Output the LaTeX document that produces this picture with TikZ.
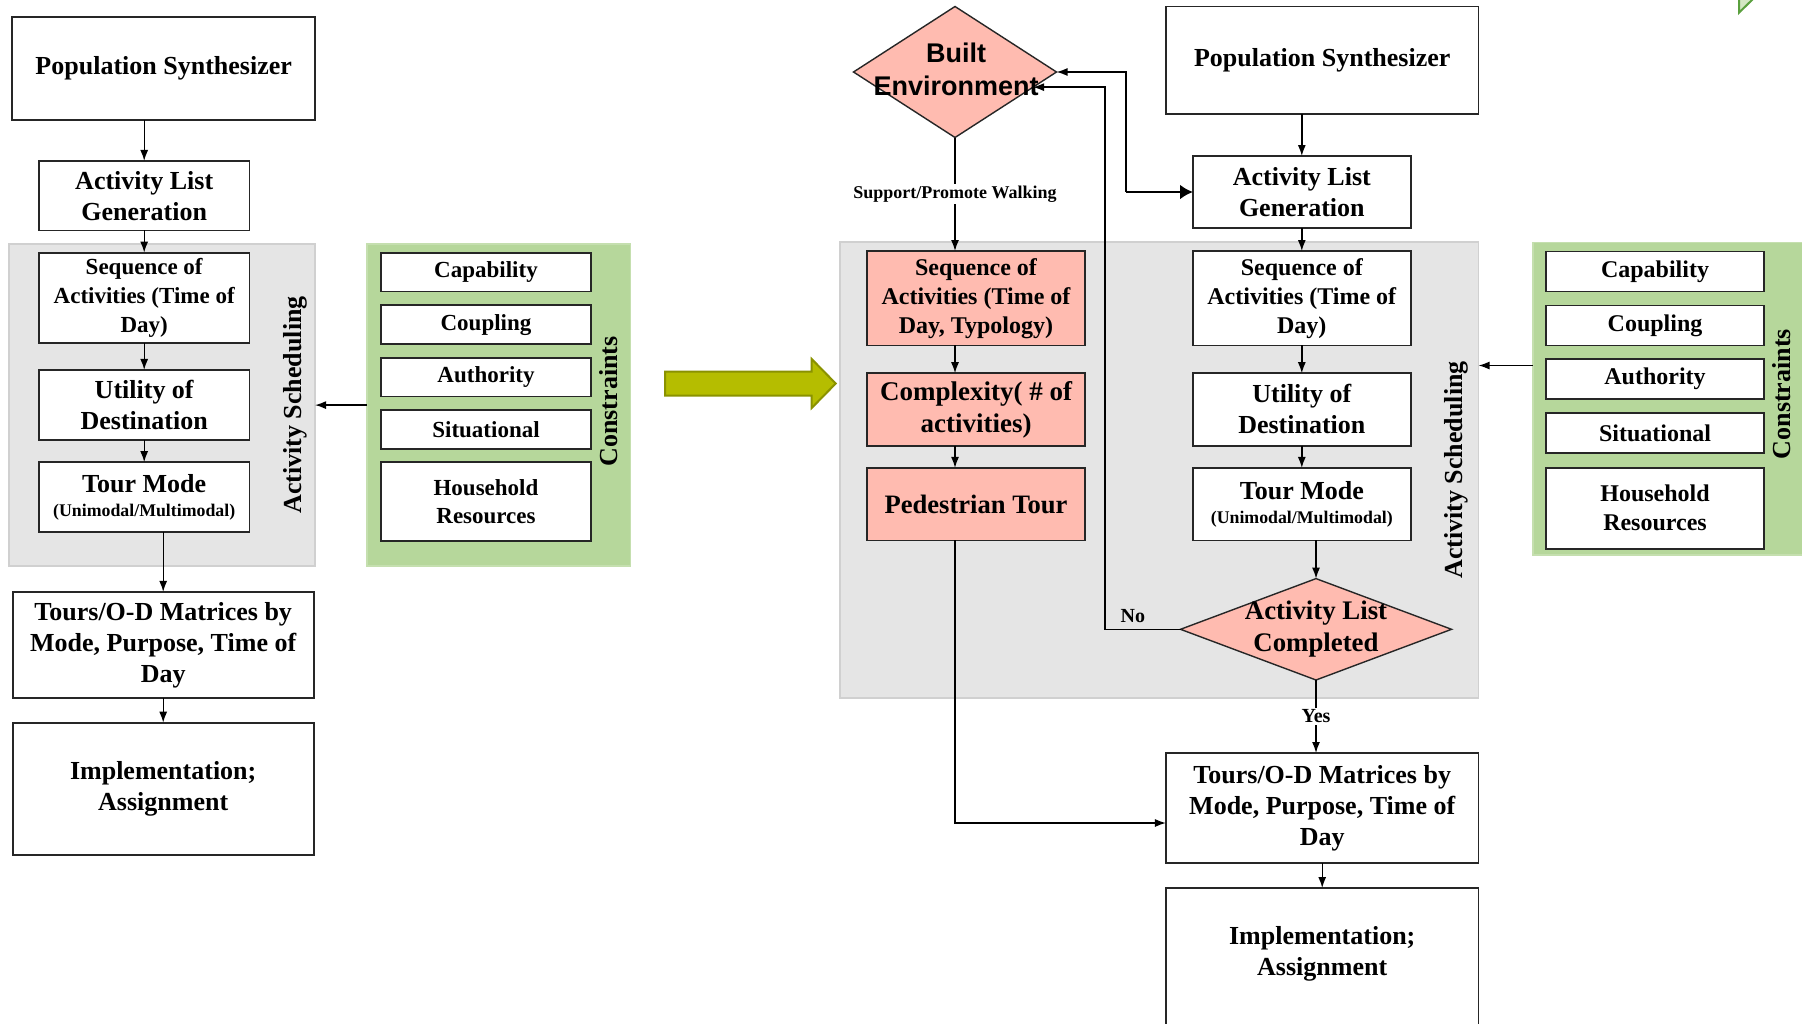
\documentclass[tikz,border=0pt]{standalone}
\usepackage{fontspec}
\setmainfont{Liberation Serif}
\newfontfamily\besans{Liberation Sans}
\usetikzlibrary{positioning, shapes.geometric, arrows.meta, calc}

\definecolor{schedgray}{RGB}{229,229,229}
\definecolor{schedline}{RGB}{208,208,208}
\definecolor{consgreen}{RGB}{182,215,155}
\definecolor{walkpink}{RGB}{255,187,176}
\definecolor{shiftolive}{RGB}{181,189,0}
\definecolor{shiftline}{RGB}{138,146,0}
\definecolor{cornergreen}{RGB}{90,160,62}

\begin{document}
\begin{tikzpicture}[x=0.5pt, y=-0.5pt,
  conn/.style={-{Latex[length=5.5pt,width=4pt]}, line width=0.7pt},
  procbox/.style={rectangle, draw=black!85, line width=0.9pt, fill=white, align=center, inner sep=1pt, outer sep=0pt, font=\fontsize{13}{15.5}\selectfont\bfseries},
  seqbox/.style={procbox, font=\fontsize{11.5}{14.5}\selectfont\bfseries},
  consbox/.style={procbox, font=\fontsize{11.5}{14}\selectfont\bfseries},
  walkbox/.style={procbox, fill=walkpink},
  decision/.style={diamond, draw=black!85, line width=0.7pt, fill=walkpink, inner sep=0pt, outer sep=0pt},
  schedpanel/.style={rectangle, draw=schedline, line width=0.8pt, fill=schedgray, inner sep=0pt, outer sep=0pt},
  conspanel/.style={rectangle, draw=consgreen!80!white, line width=0.8pt, fill=consgreen, inner sep=0pt, outer sep=0pt},
  sidelabel/.style={rotate=90, font=\fontsize{13}{15}\selectfont\bfseries},
  smalllabel/.style={font=\fontsize{10}{12}\selectfont\bfseries, inner sep=1pt}]

  \useasboundingbox (0,0) rectangle (1802,1023);
  \fill[white] (0,0) rectangle (1802,1023);
  \clip (0,0) rectangle (1802,1023);

  % Panels
  \node[schedpanel, minimum width=153pt, minimum height=160.9pt] (gray1) at (162,405.1) {};
  \node[conspanel, minimum width=131.8pt, minimum height=160.9pt] (green1) at (498.8,405.1) {};
  \node[schedpanel, minimum width=319.25pt, minimum height=228pt] (gray2) at (1159.25,470) {};
  \node[conspanel, minimum width=153.65pt, minimum height=156.35pt] (green2) at (1686.35,398.65) {};

  % Current model (left)
  \node[procbox, minimum width=151.4pt, minimum height=51.8pt] (ps1) at (163.7,68.4) {Population Synthesizer};
  \node[procbox, minimum width=105.25pt, minimum height=34.75pt] (alg1) at (144.2,195.7) {Activity List\\Generation};
  \node[seqbox, minimum width=105.25pt, minimum height=45.3pt] (seq1) [below=11.1pt of alg1] {Sequence of\\Activities (Time of\\Day)};
  \node[procbox, minimum width=105.25pt, minimum height=35pt] (util1) [below=13.35pt of seq1] {Utility of\\Destination};
  \node[procbox, minimum width=105.25pt, minimum height=34.8pt] (tm1) [below=11.1pt of util1] {Tour Mode\\[-3.5pt]{\fontsize{8.9}{10}\selectfont(Unimodal/Multimodal)}};
  \node[procbox, minimum width=150.5pt, minimum height=52.9pt] (tours1) at (163.2,644.8) {Tours/O-D Matrices by\\Mode, Purpose, Time of\\Day};
  \node[procbox, minimum width=150.5pt, minimum height=66.2pt] (impl1) [below=12.5pt of tours1] {Implementation;\\Assignment};
  \node[sidelabel] (asched1) at (295,405) {Activity Scheduling};

  \node[consbox, minimum width=105pt, minimum height=19.4pt] (cap1) at (486,272.1) {Capability};
  \node[consbox, minimum width=105pt, minimum height=19.4pt] (coup1) [below=6.85pt of cap1] {Coupling};
  \node[consbox, minimum width=105pt, minimum height=19.4pt] (auth1) [below=6.85pt of coup1] {Authority};
  \node[consbox, minimum width=105pt, minimum height=19.4pt] (sit1) [below=6.7pt of auth1] {Situational};
  \node[consbox, minimum width=105pt, minimum height=39.25pt] (hh1) [below=6.8pt of sit1] {Household\\Resources};
  \node[sidelabel] (cons1) at (609,401.4) {Constraints};

  % Shift arrow
  \draw[fill=shiftolive, draw=shiftline, line width=1pt] (665,371.7) -- (811.7,371.7) -- (811.7,359) -- (835.7,383.5) -- (811.7,408) -- (811.7,395.7) -- (665,395.7) -- cycle;

  % Proposed model (right)
  \node[decision, minimum width=101.5pt, minimum height=65.5pt] (be) at (955,72) {};
  \node[font={\besans\fontsize{13.5}{16.4}\selectfont\bfseries}, align=center, inner sep=0pt] (betext) at (956,69) {Built\\Environment};
  \node[procbox, minimum width=156.25pt, minimum height=53.6pt] (ps2) at (1322.2,60) {Population Synthesizer};
  \node[procbox, minimum width=108.8pt, minimum height=36pt] (alg2) at (1301.8,192) {Activity List\\Generation};

  \node[walkbox, font=\fontsize{12}{14.5}\selectfont\bfseries, minimum width=109pt, minimum height=47.2pt] (seq2) at (976,298.2) {Sequence of\\Activities (Time of\\Day, Typology)};
  \node[walkbox, font=\fontsize{13.5}{16}\selectfont\bfseries, minimum width=109pt, minimum height=36.25pt] (cplx) [below=13.9pt of seq2] {Complexity( \# of\\activities)};
  \node[walkbox, font=\fontsize{13.3}{16}\selectfont\bfseries, minimum width=109pt, minimum height=36.25pt] (ped) [below=11.1pt of cplx] {Pedestrian Tour};

  \node[seqbox, font=\fontsize{12}{14.5}\selectfont\bfseries, minimum width=108.8pt, minimum height=47.2pt] (seq3) at (1301.8,298.2) {Sequence of\\Activities (Time of\\Day)};
  \node[procbox, minimum width=108.8pt, minimum height=36.25pt] (util2) [below=13.9pt of seq3] {Utility of\\Destination};
  \node[procbox, minimum width=108.8pt, minimum height=36.25pt] (tm2) [below=11.1pt of util2] {Tour Mode\\[-3.5pt]{\fontsize{8.9}{10}\selectfont(Unimodal/Multimodal)}};
  \node[decision, minimum width=135.5pt, minimum height=50.7pt] (acl) at (1316,629.3) {};
  \node[font=\fontsize{13.4}{16}\selectfont\bfseries, align=center, inner sep=0pt] (acltext) at (1316,629.3) {Activity List\\Completed};
  \node[sidelabel] (asched2) at (1456,470) {Activity Scheduling};

  \node[procbox, minimum width=156.25pt, minimum height=55pt] (tours2) at (1322.2,808) {Tours/O-D Matrices by\\Mode, Purpose, Time of\\Day};
  \node[procbox, minimum width=156.25pt, minimum height=75pt, text depth=12pt] (impl2) [below=12.5pt of tours2] {Implementation;\\Assignment};

  \node[consbox, font=\fontsize{12}{14.5}\selectfont\bfseries, minimum width=109pt, minimum height=20pt] (cap2) at (1655,271.5) {Capability};
  \node[consbox, font=\fontsize{12}{14.5}\selectfont\bfseries, minimum width=109pt, minimum height=20pt] (coup2) [below=7pt of cap2] {Coupling};
  \node[consbox, font=\fontsize{12}{14.5}\selectfont\bfseries, minimum width=109pt, minimum height=20pt] (auth2) [below=6.85pt of coup2] {Authority};
  \node[consbox, font=\fontsize{12}{14.5}\selectfont\bfseries, minimum width=109pt, minimum height=20pt] (sit2) [below=7pt of auth2] {Situational};
  \node[consbox, font=\fontsize{12}{14.5}\selectfont\bfseries, minimum width=109pt, minimum height=40.7pt] (hh2) [below=7.2pt of sit2] {Household\\Resources};
  \node[sidelabel] (cons2) at (1781.7,394) {Constraints};

  % corner mark
  \draw[draw=cornergreen, fill=consgreen!60!white, line width=1pt] (1739,-4) -- (1739,12.7) -- (1756,-4);

  % Connectors (left)
  \path[conn]
    (ps1.south -| alg1) edge (alg1.north)
    (alg1) edge (seq1)
    (seq1) edge (util1)
    (util1) edge (tm1)
    (tm1.south -| tours1) edge (tours1.north)
    (tours1) edge (impl1)
    (green1.west) edge (gray1.east);

  % Connectors (right)
  \path[conn]
    (ps2.south -| alg2) edge (alg2.north)
    (alg2) edge (seq3)
    (seq3) edge (util2)
    (util2) edge (tm2)
    (tm2.south -| acl) edge (acl.north)
    (tours2) edge (impl2)
    (seq2.south -| be) edge (cplx.north -| be)
    (cplx.south -| be) edge (ped.north -| be);
  \draw[conn] (be.south) -- node[smalllabel, fill=white, font=\fontsize{9}{11}\selectfont\bfseries] {Support/Promote Walking} (seq2.north -| be);
  \draw[conn] (acl.south) -- node[smalllabel, fill=white] {Yes} (tours2.north -| acl);
  \draw[conn] (ped.south -| be) |- ($(tours2.west)+(0,15)$);

  \coordinate (noturn) at (1105,629.3);
  \draw[conn] (acl.west) -- node[smalllabel, pos=0.63, above=2pt] {No} (noturn) |- (be.-11);

  \coordinate (beturn) at (1126,72);
  \draw[line width=0.7pt, {Latex[length=5.5pt,width=4pt]}-] (be.east) -- (beturn) -- (beturn |- alg2.west);
  \draw[line width=1.3pt, -{Latex[length=6.5pt,width=7.5pt]}] (beturn |- alg2.west) -- (alg2.west);

  \coordinate (consin) at (1533,365.5);
  \draw[conn] (consin) -- (consin -| gray2.east);
\end{tikzpicture}
\end{document}
